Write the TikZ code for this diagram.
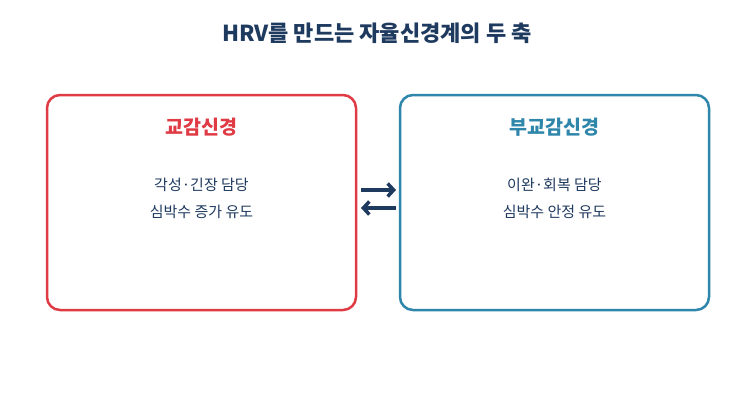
\documentclass[tikz,border=0pt]{standalone}
\usepackage{fontspec}
\setmainfont{Noto Sans CJK KR}
\usetikzlibrary{arrows.meta}
\definecolor{navy}{HTML}{1F3A5F}
\definecolor{redc}{HTML}{E03A45}
\definecolor{bluec}{HTML}{2E86AB}
\begin{document}
\begin{tikzpicture}[x=1pt,y=-1pt,
  box/.style={draw,line width=2.5pt,rounded corners=13pt},
  ttl/.style={font=\fontsize{19.5}{22}\selectfont\bfseries},
  body/.style={font=\fontsize{15}{18}\selectfont,text=navy},
  arr/.style={navy,line width=3.5pt,-{Straight Barb[length=6pt,width=13pt]}}]
\useasboundingbox[fill=white] (0,0) rectangle (756,405);
\node[font=\fontsize{22}{26}\selectfont\bfseries,text=navy] (title) at (377,33) {HRV를 만드는 자율신경계의 두 축};
\node[box,draw=redc,minimum width=309,minimum height=215] (L) at (201.5,202.5) {};
\node[box,draw=bluec,minimum width=309,minimum height=215] (R) at (554.5,202.5) {};
\node[ttl,text=redc] (lt) at (201.5,127) {교감신경};
\node[ttl,text=bluec] (rt) at (554.5,127) {부교감신경};
\node[body] (l1) at (201.5,185) {각성·긴장 담당};
\node[body] (l2) at (201.5,212) {심박수 증가 유도};
\node[body] (r1) at (554.5,185) {이완·회복 담당};
\node[body] (r2) at (554.5,212) {심박수 안정 유도};
\coordinate (a1) at (361,190); \coordinate (b1) at (396,190);
\coordinate (a2) at (396,208); \coordinate (b2) at (361,208);
\draw[arr] (a1) -- (b1);
\draw[arr] (a2) -- (b2);
\end{tikzpicture}
\end{document}
